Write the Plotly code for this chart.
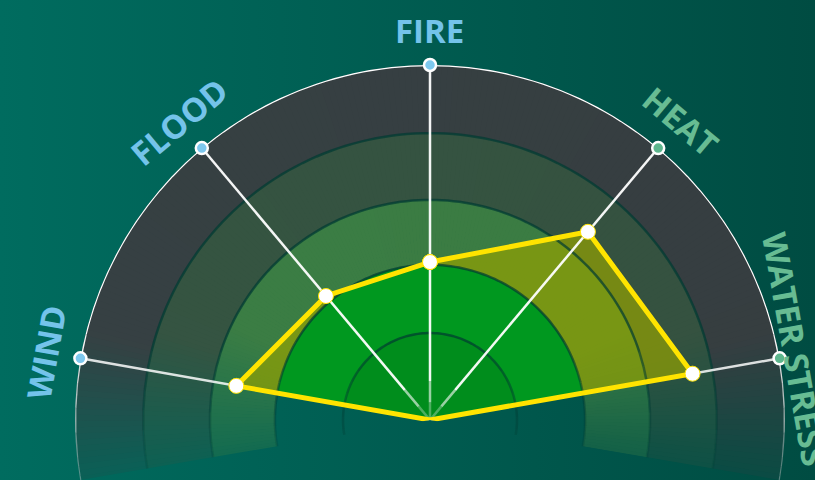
import base64
import math

import numpy as np
import plotly.graph_objects as go

# ---- data -------------------------------------------------------------------
# nine hazard axes 40 degrees apart, from the top going anticlockwise;
# the four lower ones carry no name in the picture and score nothing
axes = ["FIRE", "FLOOD", "WIND", "", "", "", "", "WATER STRESS", "HEAT"]
scores = [44.5, 45.6, 55.4, 0, 0, 0, 0, 75.1, 69.2]
axis_family = ["hazard", "hazard", "hazard", None, None, None, None, "climate", "climate"]
# outer edge of each risk band on the 0-100 radial scale
band_edges = [24.5, 43.7, 62.0, 80.8, 100.0]

# ---- look -------------------------------------------------------------------
W, H = 815, 480
CX, CY, RPX = 430, 420, 355          # dial centre and outer radius in pixels
BG_LEFT, BG_RIGHT = (0, 108, 95), (0, 76, 66)
band_colors = [None, None, (66, 128, 66), (59, 82, 63), (60, 60, 64)]
inside_colors = ["#008d1c", "#00981f"]
label_colors = {"hazard": "#74c3ea", "climate": "#67bc93"}
dot_colors = {"hazard": "#7ec8ee", "climate": "#5db68d"}
label_pos = {"WATER STRESS": (372, 1.0)}   # (radius px, angle shift) when not default
LABEL_R = 390

theta = [(90 + 40 * i) % 360 for i in range(len(axes))]


def px(r, t):
    '''pixel offset (right, up) of a polar point from the dial centre'''
    a = math.radians(t)
    return CX + r / 100 * RPX * math.cos(a), r / 100 * RPX * math.sin(a)


def bg_at(x):
    f = min(max(x / W, 0), 1)
    return np.array(BG_LEFT) + (np.array(BG_RIGHT) - np.array(BG_LEFT)) * f


def fade(y):
    # everything below ~80px above the centre softens towards the background
    return float(np.clip(0.15 + 0.85 * (y + 60) / 140, 0.15, 1))


def mix(c, b, a):
    return np.array(c) * a + np.array(b) * (1 - a)


def rgb(c):
    return "rgb(%d,%d,%d)" % tuple(int(round(v)) for v in c)


def rgba(c, a):
    return "rgba(%d,%d,%d,%.2f)" % (c[0], c[1], c[2], a)


def arc_traces(r, color, alpha, width, step=4):
    '''circle at radius r, cut in pieces so the lower part can fade'''
    starts = 90 + np.arange(0, 360, step)
    levels = [round(alpha * max(fade(px(r, a + step / 2)[1]), 0.3) / 0.05) * 0.05
              for a in starts]
    out = []
    i = 0
    while i < len(starts):
        j = i
        while j + 1 < len(starts) and levels[j + 1] == levels[i]:
            j += 1
        a0, a1 = starts[i], starts[j] + step
        n = max(int((a1 - a0) / 1.5), 2)
        out.append(go.Scatterpolar(
            r=[r] * n, theta=np.linspace(a0, a1, n), mode="lines",
            line=dict(color=rgba(color, levels[i]), width=width),
            cliponaxis=False, hoverinfo="skip", showlegend=False))
        i = j + 1
    return out


fig = go.Figure()

# risk bands, shaded wedge by wedge so the lower edge fades out
lo = -math.degrees(math.asin((H - CY) / RPX))
sector = [lo, 180 - lo]
step = 1.0
wedge_t = np.arange(sector[0], sector[1], step) + step / 2
for k in range(2, 5):
    r0, r1 = band_edges[k - 1], band_edges[k]
    cols = []
    for t in wedge_t:
        x, y = px((r0 + r1) / 2, t)
        cols.append(rgb(mix(band_colors[k], bg_at(x), 0.9 * fade(y))))
    n = len(wedge_t)
    fig.add_trace(go.Barpolar(
        r=[r1 - r0] * n, base=[r0] * n, theta=wedge_t, width=[step * 1.2] * n,
        marker=dict(color=cols, line=dict(width=0)),
        hoverinfo="skip", showlegend=False))

closed_r = scores + scores[:1]
closed_t = theta + theta[:1]

# score polygon fill
fig.add_trace(go.Scatterpolar(
    r=closed_r, theta=closed_t, mode="lines", line=dict(width=0, color="rgba(0,0,0,0)"),
    fill="toself", fillcolor="rgba(148,162,0,0.69)",
    cliponaxis=False, hoverinfo="skip", showlegend=False))

# inner bands inside the polygon are shown bright green
scored_t = [t for t, s in zip(theta, scores) if s > 0]
arc = np.linspace(min(scored_t), max(scored_t), 81)
for k in (1, 0):
    fig.add_trace(go.Scatterpolar(
        r=[band_edges[k]] * len(arc) + [0], theta=list(arc) + [0], mode="lines",
        line=dict(width=0, color="rgba(0,0,0,0)"), fill="toself",
        fillcolor=inside_colors[k], cliponaxis=False, hoverinfo="skip", showlegend=False))

# band edges and the outer rim
for e in band_edges[:-1]:
    for tr in arc_traces(e, (0, 58, 50), 0.7, 2.5):
        fig.add_trace(tr)
for tr in arc_traces(100, (255, 255, 255), 1.0, 2.5):
    fig.add_trace(tr)

# spokes
for t in theta:
    y_end = px(100, t)[1]
    if y_end >= 0:
        pieces = [(0, 5, 0.3), (5, 11, 0.6), (11, 100, 0.95 * fade(y_end))]
    else:
        pieces = [(0, 100, 0.4)]
    for a, b, al in pieces:
        fig.add_trace(go.Scatterpolar(
            r=[a, b], theta=[t, t], mode="lines",
            line=dict(color=rgba((255, 255, 255), al), width=2.5),
            cliponaxis=False, hoverinfo="skip", showlegend=False))

# score outline and points
fig.add_trace(go.Scatterpolar(
    r=closed_r, theta=closed_t, mode="lines+markers",
    line=dict(color="#ffe400", width=5),
    marker=dict(size=[15 if s > 0 else 0 for s in closed_r], color="white", opacity=1),
    cliponaxis=False, hoverinfo="skip", showlegend=False))

# axis end dots
named = [i for i, a in enumerate(axes) if a]
fig.add_trace(go.Scatterpolar(
    r=[100] * len(named), theta=[theta[i] for i in named], mode="markers",
    marker=dict(size=12, color=[dot_colors[axis_family[i]] for i in named],
                opacity=1, line=dict(color="white", width=2.5)),
    cliponaxis=False, hoverinfo="skip", showlegend=False))

# axis names, set tangent to the rim
annotations = []
for i in named:
    rad, shift = label_pos.get(axes[i], (LABEL_R, 0))
    t = theta[i] + shift
    x = CX + rad * math.cos(math.radians(t))
    y = (H - CY) + rad * math.sin(math.radians(t))
    annotations.append(dict(
        text=axes[i], x=x / W, y=y / H, xref="paper", yref="paper",
        xanchor="center", yanchor="middle", showarrow=False,
        textangle=90 - theta[i],
        font=dict(family="Open Sans", size=33, weight="bold",
                  color=label_colors[axis_family[i]])))

svg = ('<svg xmlns="http://www.w3.org/2000/svg" width="%d" height="%d">'
       '<defs><linearGradient id="g" x1="0" x2="1" y1="0" y2="0">'
       '<stop offset="0" stop-color="%s"/><stop offset="1" stop-color="%s"/>'
       '</linearGradient></defs><rect width="%d" height="%d" fill="url(#g)"/></svg>'
       % (W, H, rgb(BG_LEFT), rgb(BG_RIGHT), W, H))
bg_uri = "data:image/svg+xml;base64," + base64.b64encode(svg.encode()).decode()

fig.update_layout(
    width=W, height=H,
    margin=dict(l=0, r=0, t=0, b=0, pad=0),
    paper_bgcolor=rgb(bg_at(W / 2)),
    showlegend=False,
    images=[dict(source=bg_uri, xref="paper", yref="paper", x=0, y=1,
                 sizex=1, sizey=1, xanchor="left", yanchor="top",
                 sizing="stretch", layer="below")],
    polar=dict(
        domain=dict(x=[(CX - RPX) / W, (CX + RPX) / W], y=[0, (H - CY + RPX) / H]),
        sector=sector,
        bgcolor="rgba(0,0,0,0)",
        radialaxis=dict(range=[0, 100], visible=False),
        angularaxis=dict(type="linear", rotation=0, direction="counterclockwise",
                         visible=False),
    ),
    annotations=annotations,
)

# the page's default 8px body margin would frame the chart in white
fig.write_html("out.html", config={"displayModeBar": False},
               post_script="document.body.style.margin='0';")
